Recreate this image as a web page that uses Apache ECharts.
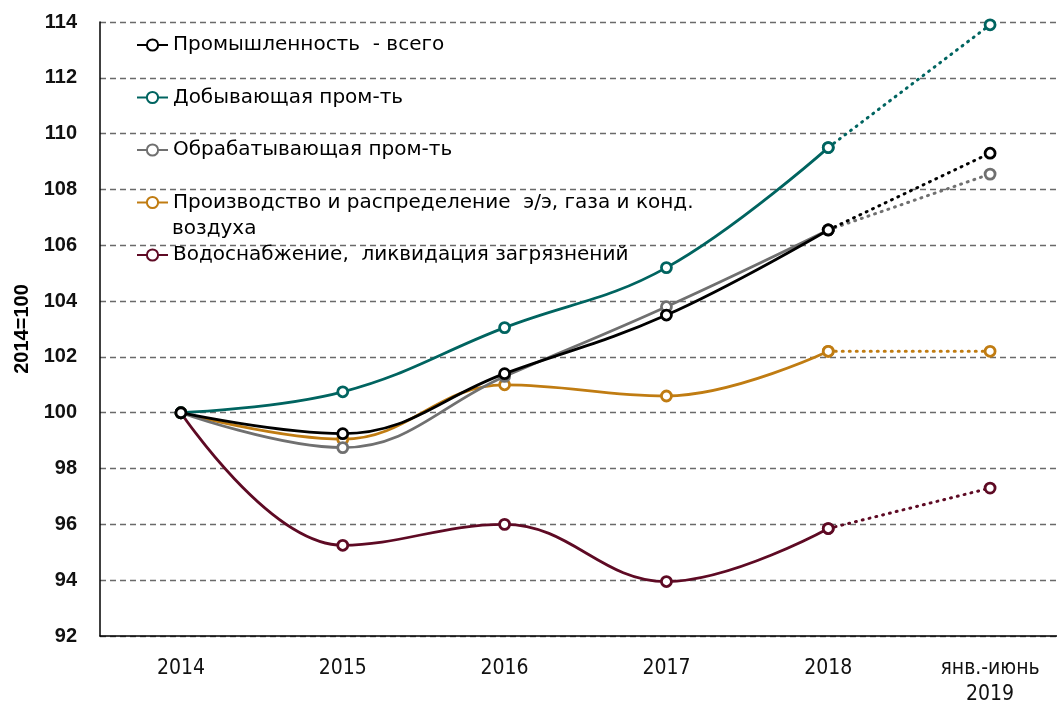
<!DOCTYPE html>
<html>
<head>
<meta charset="utf-8">
<script src="https://cdn.jsdelivr.net/npm/echarts@6/dist/echarts.min.js"></script>
<style>
  html, body { margin:0; padding:0; background:#fff; }
  #main { width:1057px; height:702px; }
</style>
</head>
<body>
<div id="main"></div>
<script type="text/javascript">
// categories and values
var years = ['2014', '2015', '2016', '2017', '2018', 'янв.-июнь\n2019'];
var names = ['Промышленность  - всего', 'Добывающая пром-ть', 'Обрабатывающая пром-ть',
             'Производство и распределение  э/э, газа и конд.', 'Водоснабжение,  ликвидация загрязнений'];
var colors = ['#000000', '#006460', '#707070', '#C07C12', '#5E0A24'];

var industryTotal = [100, 99.25, 101.4, 103.5, 106.55, 109.3];
var mining        = [100, 100.75, 103.05, 105.2, 109.5, 113.9];
var manufacturing = [100, 98.75, 101.3, 103.8, 106.55, 108.55];
var energy        = [100, 99.05, 101.0, 100.6, 102.2, 102.2];
var water         = [100, 95.25, 96.0, 93.95, 95.85, 97.3];

var allData = [industryTotal, mining, manufacturing, energy, water];

var myChart = echarts.init(document.getElementById('main'));
var labelFont = 'Liberation Sans';
var textFont = 'DejaVu Sans';

var series = [];
allData.forEach(function (d, i) {
    // solid smoothed part, 2014-2018
    series.push({
        name: names[i],
        type: 'line',
        smooth: 0.4,
        data: d.slice(0, 5).concat([null]),
        symbol: 'circle',
        symbolSize: 10,
        z: 5 - i + 10,
        lineStyle: { color: colors[i], width: 2.8 },
        itemStyle: { color: '#fff', borderColor: colors[i], borderWidth: 2.8 }
    });
    // dotted part, 2018-2019
    series.push({
        name: names[i] + ' ',
        type: 'line',
        data: [null, null, null, null, d[4], d[5]],
        symbol: 'circle',
        symbolSize: 10,
        z: 5 - i,
        lineStyle: { color: colors[i], width: 3, type: [1, 6], cap: 'round' },
        itemStyle: { color: '#fff', borderColor: colors[i], borderWidth: 2.8 }
    });
});

var option = {
    animation: false,
    backgroundColor: '#fff',
    grid: { left: 100, width: 971, top: 22, bottom: 66, outerBoundsMode: 'none', containLabel: false },
    legend: {
        data: names,
        orient: 'vertical',
        left: 131,
        top: 30,
        itemWidth: 31,
        itemHeight: 14,
        itemGap: 32.5,
        textStyle: { fontFamily: textFont, fontSize: 20, color: '#000' }
    },
    graphic: [{
        type: 'text',
        left: 172,
        top: 219,
        style: { text: 'воздуха', fontFamily: textFont, fontSize: 20, fill: '#000' }
    }],
    xAxis: {
        type: 'category',
        data: years,
        boundaryGap: true,
        axisLine: { lineStyle: { color: '#000', width: 1.5 } },
        axisTick: { show: false },
        axisLabel: {
            margin: 20,
            fontFamily: 'DejaVu Sans Condensed', fontSize: 21, color: '#111', lineHeight: 26
        }
    },
    yAxis: {
        type: 'value',
        min: 92,
        max: 114,
        interval: 2,
        name: '2014=100',
        nameLocation: 'middle',
        nameGap: 68,
        nameTextStyle: { fontFamily: labelFont, fontSize: 20, fontWeight: 'bold', color: '#000' },
        axisLine: { show: true, lineStyle: { color: '#000', width: 1.5 } },
        axisTick: { show: false },
        axisLabel: { margin: 23, fontFamily: labelFont, fontSize: 20, fontWeight: 'bold', color: '#111' },
        splitLine: { lineStyle: { color: '#6a6a6a', width: 1.3, type: [6, 4] } }
    },
    series: series
};
myChart.setOption(option);
window.addEventListener('resize', myChart.resize);
</script>
</body>
</html>
